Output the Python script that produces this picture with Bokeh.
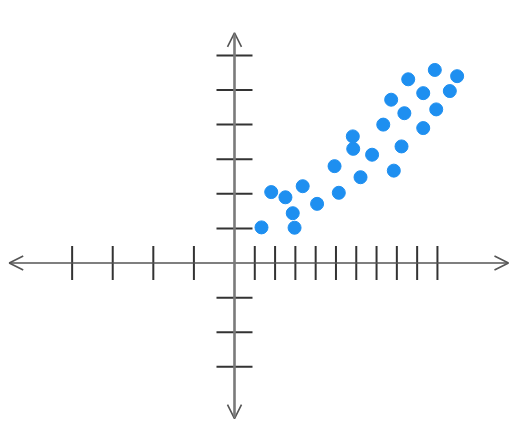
import numpy as np
from bokeh.plotting import figure
from bokeh.models import Arrow, OpenHead, Range1d
from bokeh.embed import file_html
from bokeh.resources import INLINE

# scatter data
xs = [1.33, 1.81, 2.51, 2.87, 2.96, 3.36, 4.07, 4.93, 5.14, 5.83, 5.85, 6.21, 6.78,
      7.33, 7.72, 7.85, 8.23, 8.37, 8.56, 9.30, 9.30, 9.87, 9.94, 10.61, 10.97]
ys = [1.03, 2.05, 1.90, 1.44, 1.02, 2.22, 1.71, 2.80, 2.03, 3.66, 3.30, 2.48, 3.13,
      4.00, 4.72, 2.67, 3.37, 4.33, 5.31, 4.91, 3.90, 5.58, 4.44, 4.97, 5.40]

# number-line ticks
x_ticks = [-8, -6, -4, -2, 1, 2, 3, 4, 5, 6, 7, 8, 9, 10]
y_ticks = [-3, -2, -1, 1, 2, 3, 4, 5, 6]

# axis extents (arrow tips)
x_axis_ends = [-11.1, 13.5]
y_axis_ends = [-4.5, 6.65]

p = figure(width=510, height=421, output_backend="svg", toolbar_location=None,
           x_range=Range1d(-11.53, 13.6), y_range=Range1d(-4.58, 7.587),
           min_border=0)
p.axis.visible = False
p.grid.visible = False
p.outline_line_color = None
p.background_fill_color = "white"

# horizontal axis
p.add_layout(Arrow(x_start=0, y_start=0, x_end=x_axis_ends[1], y_end=0,
                   line_color="#555555", line_width=1.6,
                   end=OpenHead(size=14, line_width=1.6, line_color="#555555")))
p.add_layout(Arrow(x_start=0, y_start=0, x_end=x_axis_ends[0], y_end=0,
                   line_color="#555555", line_width=1.6,
                   end=OpenHead(size=14, line_width=1.6, line_color="#555555")))
# vertical axis
p.add_layout(Arrow(x_start=0, y_start=0, x_end=0, y_end=y_axis_ends[1],
                   line_color="#7a7a7a", line_width=2.6,
                   end=OpenHead(size=14, line_width=1.6, line_color="#555555")))
p.add_layout(Arrow(x_start=0, y_start=0, x_end=0, y_end=y_axis_ends[0],
                   line_color="#7a7a7a", line_width=2.6,
                   end=OpenHead(size=14, line_width=1.6, line_color="#555555")))

# ticks
p.scatter(x_ticks, [0] * len(x_ticks), marker="dash", size=34, angle=np.pi / 2,
          line_color="#333333", line_width=2)
p.scatter([0] * len(y_ticks), y_ticks, marker="dash", size=36,
          line_color="#333333", line_width=2)

# points
p.scatter(xs, ys, size=13, fill_color="#1e8ff0", line_color="#1e8ff0")

open("out.html", "w").write(file_html(p, INLINE))
